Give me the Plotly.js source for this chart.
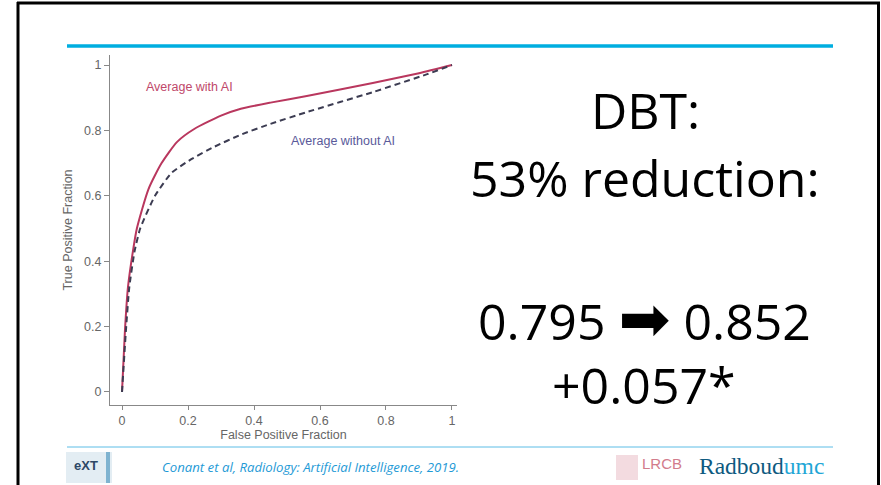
<!DOCTYPE html>
<html>
<head>
<meta charset="utf-8">
<script src="https://cdn.plot.ly/plotly-3.0.1.min.js"></script>
<style>
html,body{margin:0;padding:0;background:#fff;}
#chart{width:881px;height:485px;}
</style>
</head>
<body>
<div id="chart"></div>
<script>
// ---- data ----
var fprWithAI = [0, 0.009, 0.018, 0.033, 0.045, 0.08, 0.12, 0.167, 0.22, 0.30, 0.36, 0.45, 0.56, 0.76, 0.90, 1.0];
var tprWithAI = [0, 0.19, 0.32, 0.43, 0.50, 0.62, 0.70, 0.765, 0.805, 0.845, 0.866, 0.885, 0.905, 0.945, 0.975, 1.0];
var fprWithoutAI = [0, 0.012, 0.022, 0.038, 0.055, 0.10, 0.15, 0.21, 0.28, 0.358, 0.45, 0.56, 0.76, 0.925, 1.0];
var tprWithoutAI = [0, 0.19, 0.32, 0.43, 0.50, 0.60, 0.67, 0.712, 0.75, 0.786, 0.82, 0.856, 0.917, 0.972, 1.0];
var seriesNames = ["Average with AI", "Average without AI"];
var tickVals = [0, 0.2, 0.4, 0.6, 0.8, 1];
var tickText = ["0", "0.2", "0.4", "0.6", "0.8", "1"];
var xTitle = "False Positive Fraction";
var yTitle = "True Positive Fraction";
var slideLines = ["DBT:", "53% reduction:", "0.795 ", "\u27A1", " 0.852", "+0.057*"];
var citation = "Conant et al, Radiology: Artificial Intelligence, 2019.";

// pixel -> paper helpers (layout positions only)
var W = 881, H = 485;
function px(x){ return x / W; }
function py(y){ return 1 - y / H; }

var traces = [
  {x: fprWithAI, y: tprWithAI, mode: "lines", name: seriesNames[0],
   line: {color: "#b9375e", width: 2, shape: "spline", smoothing: 0.6}},
  {x: fprWithoutAI, y: tprWithoutAI, mode: "lines", name: seriesNames[1],
   line: {color: "#3c3c52", width: 2, dash: "6px,4px", shape: "spline", smoothing: 0.5}}
];

var axisFont = {family: "Liberation Sans, Arial, sans-serif", size: 12.5, color: "#666"};

var layout = {
  width: W, height: H,
  margin: {l: 0, r: 0, t: 0, b: 0},
  paper_bgcolor: "#fff", plot_bgcolor: "#fff",
  showlegend: false,
  xaxis: {
    domain: [px(110), px(457)],
    range: [-0.0364, 1.0152],
    tickvals: tickVals, ticktext: tickText,
    ticks: "outside", ticklen: 4, tickcolor: "#888",
    showline: true, linecolor: "#888", linewidth: 1,
    showgrid: false, zeroline: false,
    tickfont: axisFont,
    title: {text: xTitle, font: axisFont, standoff: 1}
  },
  yaxis: {
    domain: [py(405), py(55)],
    range: [-0.0398, 1.0306],
    tickvals: tickVals, ticktext: tickText,
    ticks: "outside", ticklen: 5, tickcolor: "#888",
    showline: true, linecolor: "#888", linewidth: 1,
    showgrid: false, zeroline: false,
    tickfont: axisFont,
    title: {text: yTitle, font: axisFont, standoff: 8}
  },
  shapes: [
    // slide frame
    {type: "line", xref: "paper", yref: "paper", x0: px(18), x1: px(18), y0: py(2), y1: py(490), line: {color: "#000", width: 3}},
    {type: "line", xref: "paper", yref: "paper", x0: px(17), x1: px(880), y0: py(3), y1: py(3), line: {color: "#000", width: 3}},
    {type: "line", xref: "paper", yref: "paper", x0: px(878.5), x1: px(878.5), y0: py(2), y1: py(490), line: {color: "#000", width: 3}},
    // title rule
    {type: "line", xref: "paper", yref: "paper", x0: px(67), x1: px(833), y0: py(46), y1: py(46), line: {color: "#00aee0", width: 3.5}},
    // footer rule
    {type: "line", xref: "paper", yref: "paper", x0: px(67), x1: px(833), y0: py(447), y1: py(447), line: {color: "#5dbde6", width: 1}},
    // eXT logo block
    {type: "rect", xref: "paper", yref: "paper", x0: px(66), x1: px(112), y0: py(483), y1: py(452), line: {width: 0}, fillcolor: "#e3edf3"},
    {type: "rect", xref: "paper", yref: "paper", x0: px(106), x1: px(110), y0: py(483), y1: py(452), line: {width: 0}, fillcolor: "#7fb3d0"},
    // LRCB logo graphic
    {type: "rect", xref: "paper", yref: "paper", x0: px(616), x1: px(638), y0: py(480), y1: py(455), line: {width: 0}, fillcolor: "#f3dbe0"}
  ],
  annotations: [
    {xref: "x", yref: "y", x: 0.206, y: 0.933, text: seriesNames[0], showarrow: false,
     font: {family: "Liberation Sans, Arial, sans-serif", size: 12.5, color: "#c0486a"}},
    {xref: "x", yref: "y", x: 0.67, y: 0.768, text: seriesNames[1], showarrow: false,
     font: {family: "Liberation Sans, Arial, sans-serif", size: 12.5, color: "#5a5a9a"}},
    {xref: "paper", yref: "paper", x: px(645), y: py(110), text: slideLines[0], showarrow: false,
     xanchor: "center", yanchor: "middle", font: {family: "Open Sans, sans-serif", size: 50, color: "#000"}},
    {xref: "paper", yref: "paper", x: px(645), y: py(178), text: slideLines[1], showarrow: false,
     xanchor: "center", yanchor: "middle", font: {family: "Open Sans, sans-serif", size: 50, color: "#000"}},
    {xref: "paper", yref: "paper", x: px(644), y: py(318),
     text: slideLines[2] + "<span style='font-family:DejaVu Sans;font-size:62px'>" + slideLines[3] + "</span>" + slideLines[4],
     showarrow: false,
     xanchor: "center", yanchor: "middle", font: {family: "Open Sans, DejaVu Sans, sans-serif", size: 50, color: "#000"}},
    {xref: "paper", yref: "paper", x: px(644), y: py(385), text: slideLines[5], showarrow: false,
     xanchor: "center", yanchor: "middle", font: {family: "Open Sans, sans-serif", size: 50, color: "#000"}},
    {xref: "paper", yref: "paper", x: px(160), y: py(467), text: "<i>" + citation + "</i>", showarrow: false,
     xanchor: "left", yanchor: "middle", font: {family: "Open Sans, sans-serif", size: 13.2, color: "#1e9ad6"}},
    {xref: "paper", yref: "paper", x: px(86), y: py(465), text: "<b>eXT</b>", showarrow: false,
     xanchor: "center", yanchor: "middle", font: {family: "Liberation Sans, Arial, sans-serif", size: 13, color: "#2d4866"}},
    {xref: "paper", yref: "paper", x: px(640), y: py(463), text: "LRCB", showarrow: false,
     xanchor: "left", yanchor: "middle", font: {family: "Liberation Sans, Arial, sans-serif", size: 15, color: "#d27c8c"}},
    {xref: "paper", yref: "paper", x: px(697), y: py(466), text: "<span style='color:#0e5a80'>Radboud</span><span style='color:#1fa6d6'>umc</span>", showarrow: false,
     xanchor: "left", yanchor: "middle", font: {family: "Liberation Serif, serif", size: 23.5, color: "#0e5a80"}}
  ]
};

Plotly.newPlot("chart", traces, layout, {staticPlot: true, displayModeBar: false});
</script>
</body>
</html>
